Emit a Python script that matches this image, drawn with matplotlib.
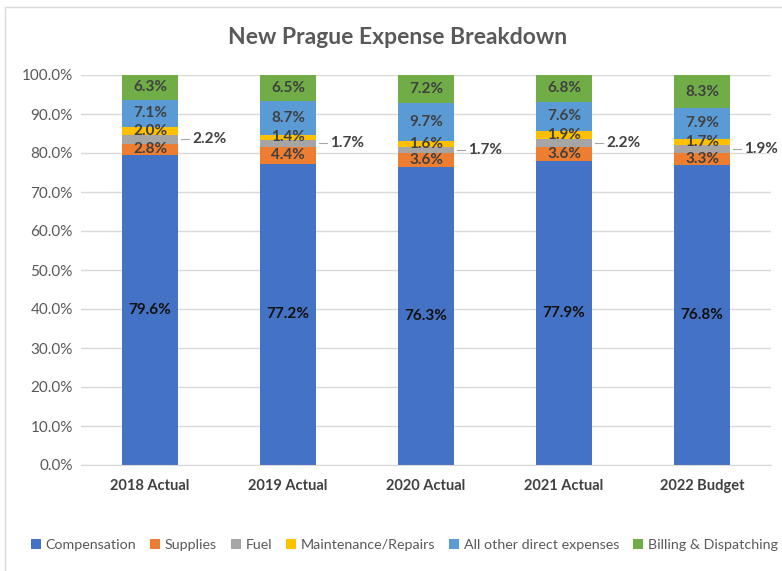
import matplotlib
matplotlib.use("Agg")
import matplotlib.pyplot as plt
from matplotlib.patches import Rectangle
import numpy as np

plt.rcParams["font.family"] = ["Lato", "DejaVu Sans"]

years = ["2018 Actual", "2019 Actual", "2020 Actual", "2021 Actual", "2022 Budget"]
series_names = ["Compensation", "Supplies", "Fuel", "Maintenance/Repairs",
                "All other direct expenses", "Billing & Dispatching"]
compensation = [79.6, 77.2, 76.3, 77.9, 76.8]
supplies = [2.8, 4.4, 3.6, 3.6, 3.3]
fuel = [2.2, 1.7, 1.7, 2.2, 1.9]
maintenance = [2.0, 1.4, 1.6, 1.9, 1.7]
other_direct = [7.1, 8.7, 9.7, 7.6, 7.9]
billing = [6.3, 6.5, 7.2, 6.8, 8.3]
colors = ["#4472C4", "#ED7D31", "#A5A5A5", "#FFC000", "#5B9BD5", "#70AD47"]

series = [compensation, supplies, fuel, maintenance, other_direct, billing]
label_color = "#404040"

fig = plt.figure(figsize=(7.82, 5.71), dpi=100)
ax = fig.add_axes([81 / 782, 1 - 465 / 571, 690 / 782, 390 / 571])

# chart area border (left/top edges visible)
fig.patches.append(Rectangle((5 / 782, -0.1), 1.2, 1 - 7 / 571 + 0.1,
                             transform=fig.transFigure, fill=False,
                             edgecolor="#D9D9D9", linewidth=1))

x = np.arange(len(years))
width = 0.41
bottom = np.zeros(len(years))
for i, (name, vals, col) in enumerate(zip(series_names, series, colors)):
    vals = np.array(vals)
    ax.bar(x, vals, width, bottom=bottom, color=col, label=name, zorder=2)
    txt_col = "#111111" if name == "Compensation" else label_color
    for j, v in enumerate(vals):
        yc = bottom[j] + v / 2
        if name == "Fuel":
            x0 = x[j] + width / 2
            ax.plot([x0 + 0.02, x0 + 0.08], [yc, yc], color="#A6A6A6",
                    linewidth=0.8, zorder=3, clip_on=False)
            ax.text(x0 + 0.1, yc, f"{v:.1f}%", ha="left", va="center",
                    fontsize=11, fontweight="bold", color=label_color)
        else:
            ax.text(x[j], yc, f"{v:.1f}%", ha="center", va="center",
                    fontsize=11, fontweight="bold", color=txt_col, zorder=4)
    bottom += vals

ax.set_xlim(-0.5, len(years) - 0.5)
ax.set_ylim(0, 100)
ax.set_yticks(np.arange(0, 101, 10))
ax.set_yticklabels([f"{t:.1f}%" for t in range(0, 101, 10)])
ax.set_xticks(x)
ax.set_xticklabels(years, fontweight="bold")
ax.tick_params(axis="y", length=0, labelsize=11, labelcolor="#595959", pad=6)
ax.tick_params(axis="x", length=0, labelsize=10.5, labelcolor="#404040", pad=10)
ax.grid(axis="y", color="#D9D9D9", linewidth=1, zorder=0)
for s in ["top", "right", "left"]:
    ax.spines[s].set_visible(False)
ax.spines["bottom"].set_color("#D9D9D9")

fig.text(0.508, 1 - 38 / 571, "New Prague Expense Breakdown", ha="center",
         va="center", fontsize=16.5, fontweight="bold", color="#595959")

fig.legend(loc="center", bbox_to_anchor=(0.517, 1 - 545 / 571), ncol=6,
           frameon=False, fontsize=10.3, handlelength=0.7, handleheight=0.7,
           handletextpad=0.3, columnspacing=1.0, labelcolor="#595959")

fig.savefig("out.png", dpi=100)
